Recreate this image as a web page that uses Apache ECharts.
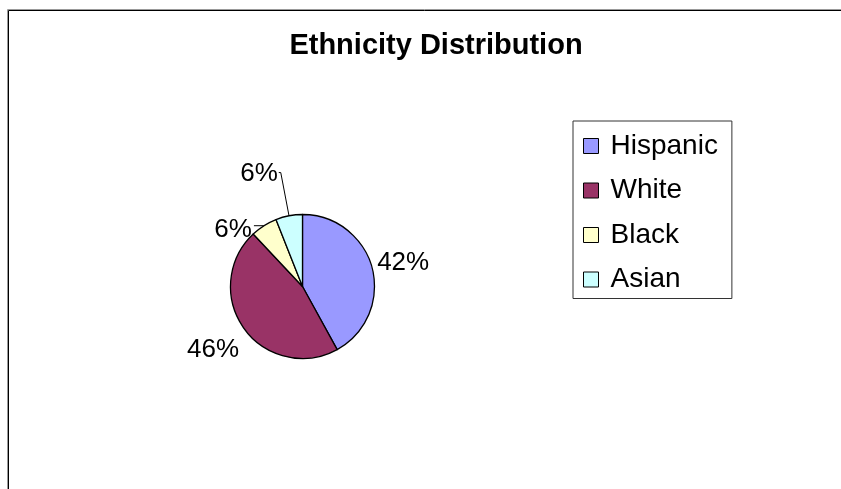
<!DOCTYPE html>
<html>
<head>
<meta charset="utf-8">
<title>Ethnicity Distribution</title>
<script src="https://cdn.jsdelivr.net/npm/echarts@6/dist/echarts.min.js"></script>
<style>
  html, body { margin: 0; padding: 0; background: #ffffff; }
  #chart { width: 841px; height: 489px; }
</style>
</head>
<body>
<div id="chart"></div>
<script>
// Share of each group (percent)
const categories = ['Hispanic', 'White', 'Black', 'Asian'];
const shares = [42, 46, 6, 6];
const sliceColors = ['#9999FF', '#993366', '#FFFFCC', '#CCFFFF'];

// Leader line lengths and small label nudges, per slice
const leaderShow = [false, false, true, true];
const leaderLen = [3, 10, 0, 44];
const leaderLen2 = [0, 0, 10, 2];
const labelNudgeX = [0, 5, 0, 1];
const labelNudgeY = [-5, 15, 4, 1];

const FONT = '"Liberation Sans", Arial, Helvetica, sans-serif';

const chart = echarts.init(document.getElementById('chart'), null, { renderer: 'canvas' });

const pieData = categories.map((name, i) => ({
  name: name,
  value: shares[i],
  itemStyle: { color: sliceColors[i] },
  labelLine: { show: leaderShow[i], length: leaderLen[i], length2: leaderLen2[i] }
}));

chart.setOption({
  backgroundColor: '#ffffff',
  animation: false,
  title: {
    text: 'Ethnicity Distribution',
    left: 431,
    top: 26,
    textAlign: 'center',
    textStyle: { fontFamily: FONT, fontSize: 29, fontWeight: 'bold', color: '#000000' }
  },
  legend: {
    orient: 'vertical',
    left: 573,
    top: 121,
    data: categories,
    icon: 'rect',
    itemWidth: 15,
    itemHeight: 15,
    itemGap: 16.5,
    padding: [11, 14, 5, 10],
    borderColor: '#333333',
    borderWidth: 1,
    itemStyle: { borderColor: '#000000', borderWidth: 1 },
    textStyle: {
      fontFamily: FONT, fontSize: 28, color: '#000000',
      lineHeight: 28, padding: [0, 0, 0, 7]
    }
  },
  graphic: [
    // chart frame: gray outer rule with a black rule inside
    { type: 'line', shape: { x1: 7.5, y1: 9.5, x2: 841, y2: 9.5 }, style: { stroke: '#999999', lineWidth: 1 }, silent: true },
    { type: 'line', shape: { x1: 7.5, y1: 9.5, x2: 7.5, y2: 489 }, style: { stroke: '#999999', lineWidth: 1 }, silent: true },
    { type: 'line', shape: { x1: 8.5, y1: 10.5, x2: 841, y2: 10.5 }, style: { stroke: '#000000', lineWidth: 1 }, silent: true },
    { type: 'line', shape: { x1: 8.5, y1: 10.5, x2: 8.5, y2: 489 }, style: { stroke: '#000000', lineWidth: 1 }, silent: true }
  ],
  series: [{
    type: 'pie',
    center: [302.5, 286.5],
    radius: 72,
    startAngle: 90,
    clockwise: true,
    avoidLabelOverlap: false,
    itemStyle: { borderColor: '#000000', borderWidth: 1.3 },
    emphasis: { disabled: true },
    label: {
      show: true,
      position: 'outside',
      formatter: '{d}%',
      fontFamily: FONT,
      fontSize: 26,
      color: '#000000',
      distanceToLabelLine: 2
    },
    labelLine: {
      lineStyle: { color: '#000000', width: 1 }
    },
    labelLayout: function (params) {
      return { dx: labelNudgeX[params.dataIndex], dy: labelNudgeY[params.dataIndex] };
    },
    data: pieData
  }]
});
</script>
</body>
</html>
